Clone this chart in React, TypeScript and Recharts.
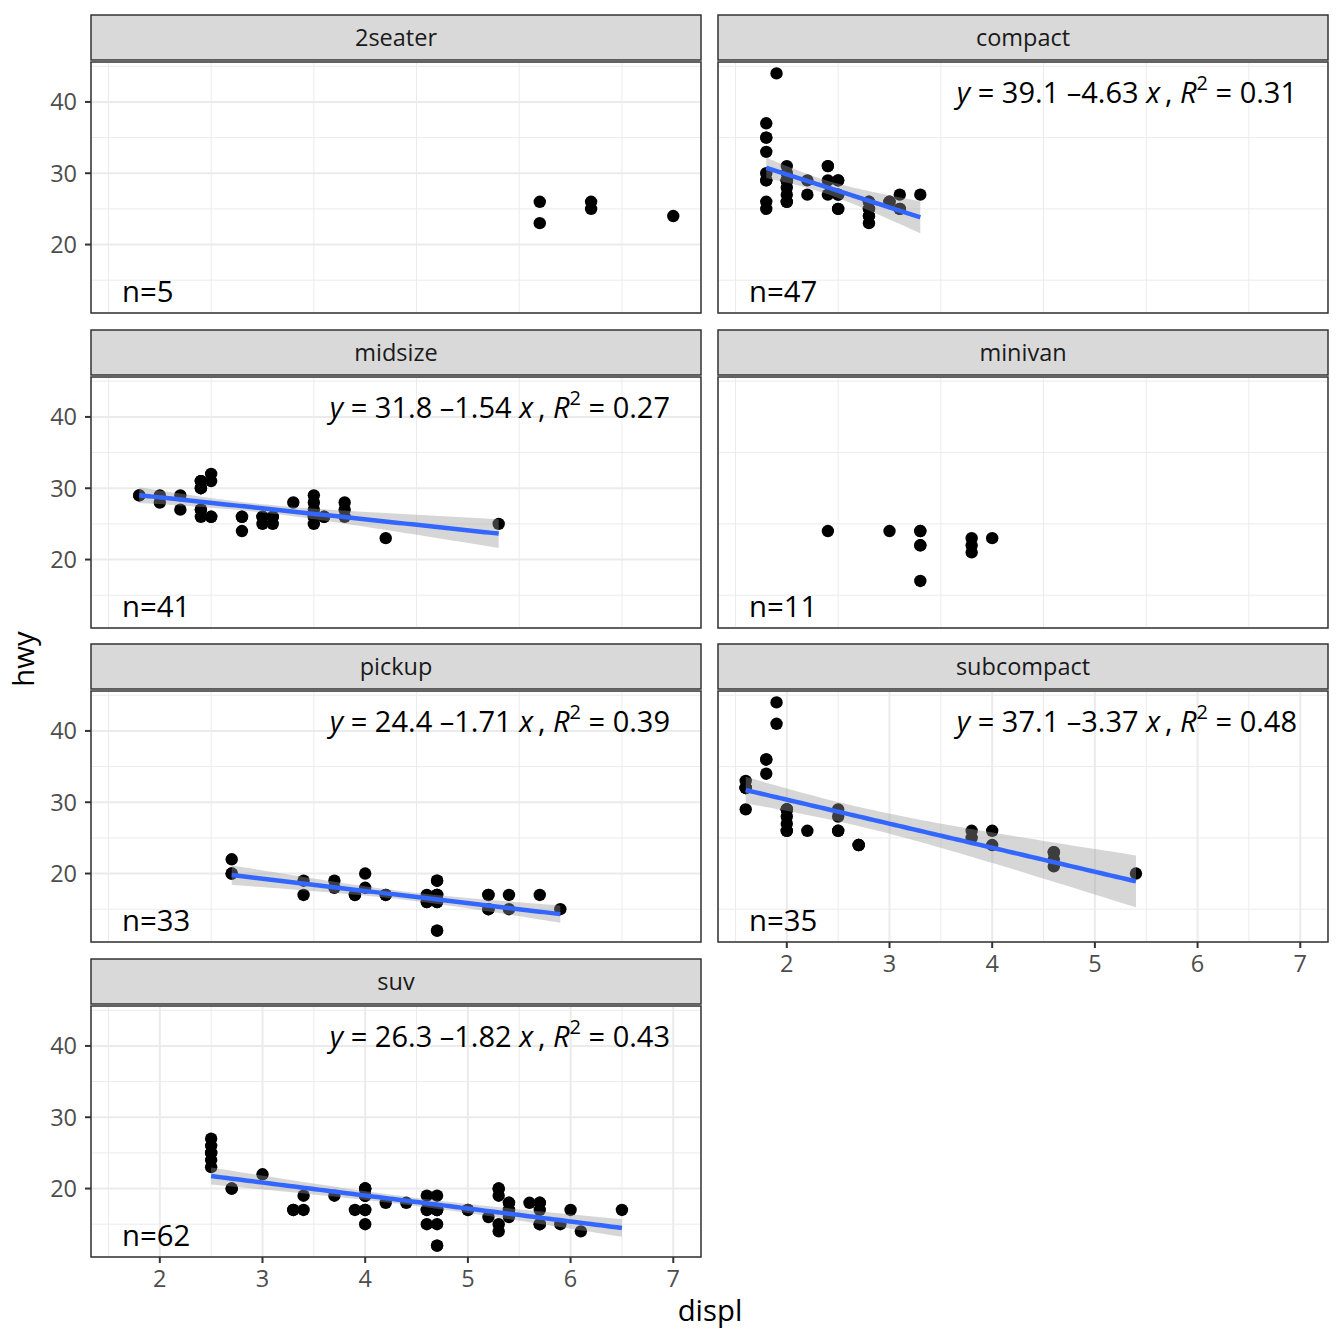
import React from "react";
import {
  ComposedChart,
  Scatter,
  Line,
  Area,
  XAxis,
  YAxis,
  CartesianGrid,
  ReferenceLine,
} from "recharts";

// mpg: displ vs hwy, one facet per class
const classNames = ["2seater", "compact", "midsize", "minivan", "pickup", "subcompact", "suv"];
const nLabels = ["n=5", "n=47", "n=41", "n=11", "n=33", "n=35", "n=62"];

// fitted lines (null = no fit drawn)
const fitIntercept = [null, 39.1, 31.8, null, 24.4, 37.1, 26.3];
const fitSlope = [null, -4.63, -1.54, null, -1.71, -3.37, -1.82];
const fitR2 = [null, "0.31", "0.27", null, "0.39", "0.48", "0.43"];

const xTicks = [2, 3, 4, 5, 6, 7];
const xMinor = [1.5, 2.5, 3.5, 4.5, 5.5, 6.5];
const yTicks = [20, 30, 40];
const yMinor = [15, 25, 35, 45];
const xDomain = [1.33, 7.27];
const yDomain = [10.4, 45.6];

const twoSeater: [number, number][] = [
  [5.7, 26], [5.7, 23], [6.2, 26], [6.2, 25], [7.0, 24],
];

const compact: [number, number][] = [
  [1.8, 29], [1.8, 29], [2.0, 31], [2.0, 30], [2.8, 26], [2.8, 26], [3.1, 27],
  [1.8, 26], [1.8, 25], [2.0, 28], [2.0, 27], [2.8, 25], [2.8, 25], [3.1, 25], [3.1, 25],
  [1.8, 30], [1.8, 33], [1.8, 35], [1.8, 37], [1.8, 35],
  [2.2, 27], [2.2, 29], [2.4, 31], [2.4, 29], [2.4, 27], [3.0, 26], [3.3, 27],
  [2.0, 29], [2.0, 26], [2.0, 29], [2.0, 29], [2.8, 24],
  [1.9, 44], [2.0, 29], [2.0, 26], [2.0, 29], [2.0, 29], [2.5, 29], [2.5, 29], [2.8, 23], [2.8, 24],
  [2.5, 27], [2.5, 25], [2.5, 27], [2.5, 25], [3.0, 26], [2.4, 31],
];

const midsize: [number, number][] = [
  [1.8, 29], [1.8, 29], [2.0, 28], [2.0, 29], [2.2, 27], [2.2, 29],
  [2.4, 26], [2.4, 27], [2.4, 27], [2.4, 30], [2.4, 30], [2.4, 31], [2.4, 31], [2.4, 31],
  [2.5, 26], [2.5, 26], [2.5, 31], [2.5, 32],
  [2.8, 24], [2.8, 26], [2.8, 26], [3.0, 25], [3.0, 26], [3.0, 26],
  [3.1, 25], [3.1, 26], [3.1, 26], [3.3, 28],
  [3.5, 29], [3.5, 27], [3.5, 26], [3.5, 26], [3.5, 25], [3.5, 28],
  [3.6, 26], [3.6, 26], [3.8, 27], [3.8, 26], [3.8, 28], [4.2, 23], [5.3, 25],
];

const minivan: [number, number][] = [
  [2.4, 24], [3.0, 24], [3.3, 22], [3.3, 22], [3.3, 24], [3.3, 24], [3.3, 17],
  [3.8, 22], [3.8, 21], [3.8, 23], [4.0, 23],
];

const pickup: [number, number][] = [
  [3.7, 19], [3.7, 18], [3.9, 17], [3.9, 17], [4.7, 19], [4.7, 19], [4.7, 12], [5.2, 17], [5.2, 15],
  [4.7, 17], [4.7, 12], [4.7, 16], [4.7, 16], [4.7, 17], [5.2, 15], [5.2, 17], [5.7, 17], [5.9, 15], [4.7, 17],
  [4.2, 17], [4.2, 17], [4.6, 16], [4.6, 16], [4.6, 17], [5.4, 15], [5.4, 17],
  [2.7, 20], [2.7, 22], [2.7, 20], [3.4, 17], [3.4, 19], [4.0, 18], [4.0, 20],
];

const subcompact: [number, number][] = [
  [1.6, 33], [1.6, 32], [1.6, 32], [1.6, 29], [1.6, 32], [1.8, 34], [1.8, 36], [1.8, 36], [2.0, 29],
  [2.0, 26], [2.0, 29], [2.0, 28], [2.0, 27], [2.7, 24], [2.7, 24], [2.7, 24],
  [3.8, 26], [3.8, 25], [4.0, 26], [4.0, 24], [4.6, 21], [4.6, 22], [4.6, 23], [4.6, 23], [5.4, 20],
  [2.2, 26], [2.5, 26], [2.5, 26],
  [1.9, 44], [2.0, 29], [2.0, 26], [2.0, 29], [1.9, 41], [2.5, 29], [2.5, 28],
];

const suv: [number, number][] = [
  [5.3, 20], [5.3, 15], [5.3, 20], [5.7, 17], [6.0, 17],
  [5.3, 19], [5.3, 14], [5.7, 15], [6.5, 17],
  [3.9, 17], [4.7, 17], [4.7, 12], [4.7, 17], [5.2, 16], [5.7, 18], [5.9, 15],
  [4.6, 17], [5.4, 17], [5.4, 18],
  [4.0, 17], [4.0, 19], [4.0, 17], [4.0, 19], [4.6, 17], [5.0, 17],
  [3.0, 22], [3.7, 19], [4.0, 20], [4.7, 17], [4.7, 19], [4.7, 12], [5.7, 18], [6.1, 14],
  [4.0, 15], [4.2, 18], [4.4, 18], [4.6, 15],
  [5.4, 17], [5.4, 16], [5.4, 18],
  [4.0, 19], [4.0, 19], [4.6, 19], [5.0, 17],
  [3.3, 17], [3.3, 17], [4.0, 20], [5.6, 18],
  [2.5, 25], [2.5, 24], [2.5, 27], [2.5, 25], [2.5, 26], [2.5, 23],
  [2.7, 20], [2.7, 20], [3.4, 19], [3.4, 17], [4.0, 20], [4.7, 17],
  [4.7, 15], [5.7, 15],
];

const classData = [twoSeater, compact, midsize, minivan, pickup, subcompact, suv];

// layout
const panelLeft = [91, 718];
const panelTop = [62, 377, 691, 1006];
const panelW = 610;
const panelH = 251;
const stripH = 45;
const yAxisW = 70;
const xAxisH = 44;
const font = "'Open Sans', 'Noto Sans', sans-serif";

// lm confidence band around the labelled fit
function smoothData(pts: [number, number][], a: number, b: number) {
  const n = pts.length;
  const xs = pts.map((p) => p[0]);
  const xbar = xs.reduce((s, v) => s + v, 0) / n;
  const sxx = xs.reduce((s, v) => s + (v - xbar) ** 2, 0);
  const rss = pts.reduce((s, [x, y]) => s + (y - a - b * x) ** 2, 0);
  const sigma = Math.sqrt(rss / (n - 2));
  const nu = n - 2;
  const z = 1.959964;
  const t = z + (z ** 3 + z) / (4 * nu) + (5 * z ** 5 + 16 * z ** 3 + 3 * z) / (96 * nu * nu);
  const lo = Math.min(...xs);
  const hi = Math.max(...xs);
  const out = [];
  for (let k = 0; k < 80; k++) {
    const x = lo + ((hi - lo) * k) / 79;
    const fit = a + b * x;
    const se = sigma * Math.sqrt(1 / n + (x - xbar) ** 2 / sxx);
    out.push({ x, fit, band: [fit - t * se, fit + t * se] });
  }
  return out;
}

const Dot = (props: any) => <circle cx={props.cx} cy={props.cy} r={6.2} fill="#000000" />;

function Facet({ i }: { i: number }) {
  const col = i % 2;
  const row = Math.floor(i / 2);
  const left = panelLeft[col];
  const top = panelTop[row];
  const showY = col === 0;
  const showX = i === 5 || i === 6;
  const a = fitIntercept[i];
  const b = fitSlope[i];
  const pts = classData[i].map(([x, y]) => ({ x, y }));
  const smooth = a !== null && b !== null ? smoothData(classData[i], a, b) : [];
  const tickStyle = { fontSize: 23.5, fill: "#4D4D4D", fontFamily: font };

  return (
    <div style={{ position: "absolute", left: left - yAxisW, top }}>
      <ComposedChart
        width={panelW + yAxisW}
        height={panelH + xAxisH}
        data={smooth}
        margin={{ top: 0, right: 0, bottom: 0, left: 0 }}
      >
        <XAxis
          type="number"
          dataKey="x"
          domain={xDomain}
          ticks={xTicks}
          allowDataOverflow
          height={xAxisH}
          axisLine={false}
          tick={showX ? tickStyle : false}
          tickLine={showX ? { stroke: "#333333", strokeWidth: 2 } : false}
          tickSize={6}
          tickMargin={7}
        />
        <YAxis
          type="number"
          dataKey="y"
          domain={yDomain}
          ticks={yTicks}
          allowDataOverflow
          width={yAxisW}
          axisLine={false}
          tick={showY ? tickStyle : false}
          tickLine={showY ? { stroke: "#333333", strokeWidth: 2 } : false}
          tickSize={6}
          tickMargin={8}
        />
        {xMinor.map((v) => (
          <ReferenceLine key={"xm" + v} x={v} stroke="#EBEBEB" strokeWidth={1} zIndex={-90} />
        ))}
        {yMinor.map((v) => (
          <ReferenceLine key={"ym" + v} y={v} stroke="#EBEBEB" strokeWidth={1} zIndex={-90} />
        ))}
        <CartesianGrid stroke="#EBEBEB" strokeWidth={2} />
        <Scatter data={pts} shape={Dot} isAnimationActive={false} zIndex={50} />
        {smooth.length > 0 && (
          <Area
            dataKey="band"
            type="linear"
            stroke="none"
            fill="#999999"
            fillOpacity={0.4}
            isAnimationActive={false}
            zIndex={100}
          />
        )}
        {smooth.length > 0 && (
          <Line
            dataKey="fit"
            type="linear"
            stroke="#3366FF"
            strokeWidth={4.5}
            dot={false}
            isAnimationActive={false}
            zIndex={110}
          />
        )}
      </ComposedChart>
    </div>
  );
}

function Overlay() {
  return (
    <svg
      width={1344}
      height={1344}
      style={{ position: "absolute", left: 0, top: 0, pointerEvents: "none" }}
      fontFamily={font}
    >
      {classNames.map((name, i) => {
        const col = i % 2;
        const row = Math.floor(i / 2);
        const left = panelLeft[col];
        const top = panelTop[row];
        const a = fitIntercept[i];
        const b = fitSlope[i];
        return (
          <g key={name}>
            <rect
              x={left}
              y={top - stripH - 2}
              width={panelW}
              height={stripH}
              fill="#D9D9D9"
              stroke="#333333"
              strokeWidth={1.5}
            />
            <text
              x={left + panelW / 2}
              y={top - stripH / 2 - 2}
              dy="0.36em"
              textAnchor="middle"
              fontSize={23.5}
              fill="#1A1A1A"
            >
              {name}
            </text>
            <rect
              x={left}
              y={top}
              width={panelW}
              height={panelH}
              fill="none"
              stroke="#333333"
              strokeWidth={1.5}
            />
            <text x={left + 31} y={top + 240} fontSize={29.3} fill="#000000">
              {nLabels[i]}
            </text>
            {a !== null && b !== null && (
              <text x={left + panelW - 31} y={top + 41} fontSize={29} fill="#000000" textAnchor="end">
                <tspan fontStyle="italic">y</tspan>
                <tspan>{` = ${a.toFixed(1)} \u2013${Math.abs(b).toFixed(2)} `}</tspan>
                <tspan fontStyle="italic">x</tspan>
                <tspan>{"\u2009, "}</tspan>
                <tspan fontStyle="italic">R</tspan>
                <tspan fontSize={20} dy={-13}>2</tspan>
                <tspan dy={13}>{` = ${fitR2[i]}`}</tspan>
              </text>
            )}
          </g>
        );
      })}
      <text x={710} y={1321} textAnchor="middle" fontSize={29.3} fill="#000000">
        displ
      </text>
      <text
        x={0}
        y={0}
        transform="translate(34 659) rotate(-90)"
        textAnchor="middle"
        fontSize={29.3}
        fill="#000000"
      >
        hwy
      </text>
    </svg>
  );
}

export default function App() {
  return (
    <div
      style={{
        position: "absolute",
        left: 0,
        top: 0,
        width: 1344,
        height: 1344,
        background: "#FFFFFF",
        fontFamily: font,
      }}
    >
      {classNames.map((name, i) => (
        <Facet key={name} i={i} />
      ))}
      <Overlay />
    </div>
  );
}
